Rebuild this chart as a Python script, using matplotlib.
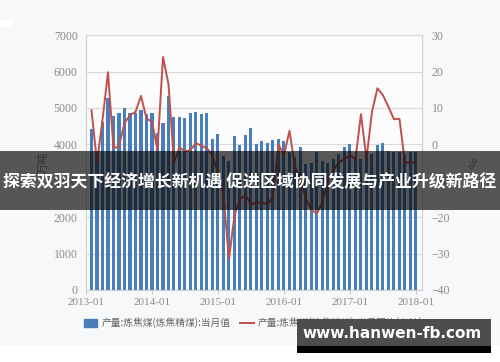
import matplotlib
matplotlib.use("Agg")
import matplotlib.pyplot as plt
import matplotlib.patches as patches
from matplotlib.lines import Line2D
import numpy as np
import pandas as pd

# monthly data, 2013-02 .. 2018-01
months = pd.period_range("2013-02", "2018-01", freq="M")
output = [4410, 3700, 4610, 5270, 4770, 4860, 5010, 4860, 4860, 4950, 4840, 4860,
          4310, 4580, 5340, 4740, 4740, 4720, 4860, 4890, 4830, 4860, 4150, 4290,
          3680, 3550, 4240, 3970, 4270, 4450, 4020, 4090, 4040, 4110, 4150, 4090,
          3790, 3650, 3940, 3450, 3500, 3780, 3550, 3500, 3600, 3740, 3940, 4000,
          3650, 3600, 3700, 3740, 3970, 4030, 3830, 3800, 3800, 3700, 3780, 3780]
yoy = [9.4, -5, 6.7, 19.8, -1.1, -0.5, 5.8, 8.0, 8.9, 13.3, 7.1, 6.2,
       -1.5, 24.0, 16.5, -5, -0.8, -2, -1.5, 0.3, -0.4, -1.1, -3, -8,
       -14, -31.5, -19.5, -15, -14, -16.5, -16, -16, -16.5, -14.5, 0, -3,
       3.7, -6, -10, -15, -18, -19, -15.8, -10, -7, -5, -4, -3,
       -4, 8.3, -4, 8.9, 15.4, 13.5, 10.3, 6.9, 7.0, -5, -5, -5]
year_labels = ["2013-01", "2014-01", "2015-01", "2016-01", "2017-01", "2018-01"]
left_ticks = [0, 1000, 2000, 3000, 4000, 5000, 6000, 7000]
right_ticks = [-40, -30, -20, -10, 0, 10, 20, 30]

bar_name = "产量:炼焦煤(炼焦精煤):当月值"
line_name = "产量:炼焦煤(炼焦精煤):当月同比(右轴)"
banner = "探索双羽天下经济增长新机遇 促进区域协同发展与产业升级新路径"
watermark = "www.hanwen-fb.com"

cjk = ["Noto Sans CJK SC", "DejaVu Sans"]
serif = "Liberation Serif"
blue = "#4a7ebb"
red = "#c0504d"
gray = "#8a8a8a"

x = np.array([(m - pd.Period("2013-01", freq="M")).n for m in months])

fig = plt.figure(figsize=(5, 3.62), dpi=100, facecolor="#f7f8fa")
ax = fig.add_axes([0.172, 0.199, 0.672, 0.704])
ax.set_facecolor("#fcfcfd")

ax.bar(x, output, width=0.55, color=blue, zorder=2)
ax.set_ylim(0, 7000)
ax.set_xlim(0, 61.1)
ax.set_yticks(left_ticks)
ax.set_yticklabels([str(v) for v in left_ticks], family=serif, fontsize=8.5, color=gray)
ax.set_xticks([0, 12, 24, 36, 48, 60])
ax.set_xticklabels(year_labels, family=serif, fontsize=8, color=gray)
ax.tick_params(axis="y", length=0, pad=6)
ax.tick_params(axis="x", length=3, color="#c8c8c8", pad=3)
ax.grid(axis="y", color="#d9d9d9", linewidth=0.9, zorder=0)
ax.set_axisbelow(True)
for s in ["left", "right", "bottom", "top"]:
    ax.spines[s].set_color("#cfcfcf")
ax.spines["top"].set_visible(False)
ax.set_ylabel("万吨", family=cjk, fontsize=8, color=gray, labelpad=4)

ax2 = ax.twinx()
ax2.plot(x, yoy, color=red, linewidth=1.4, zorder=3)
ax2.set_ylim(-40, 30)
ax2.set_yticks(right_ticks)
ax2.set_yticklabels([str(v).replace("-", "\u2212") for v in right_ticks],
                    family=serif, fontsize=8.5, color=gray)
ax2.tick_params(axis="y", length=0, pad=7)
for s in ["left", "right", "bottom", "top"]:
    ax2.spines[s].set_visible(False)
ax2.set_ylabel("%", family=cjk, fontsize=8, color=gray, labelpad=14)

# legend
handles = [patches.Patch(color=blue), Line2D([0], [0], color=red, linewidth=1.4)]
fig.legend(handles, [bar_name, line_name], loc="center", ncol=2,
           bbox_to_anchor=(0.506, 1 - 323 / 362), frameon=False,
           prop={"family": cjk, "size": 7}, labelcolor="#666666",
           handlelength=1.4, handleheight=0.9, columnspacing=1.0, handletextpad=0.4)

# white strip at bottom and small white box top-left
fig.add_artist(patches.Rectangle((0, 0), 1, 17 / 362, transform=fig.transFigure,
                                 facecolor="white", edgecolor="none", zorder=1))
fig.add_artist(patches.Rectangle((0, 1 - 27 / 362), 13 / 500, 7 / 362,
                                 transform=fig.transFigure, facecolor="white",
                                 edgecolor="none", zorder=1))

# banner overlay
fig.add_artist(patches.Rectangle((0, 1 - 210 / 362), 1, 59 / 362, transform=fig.transFigure,
                                 facecolor="black", alpha=0.65, edgecolor="none", zorder=10))
fig.text(0.5, 1 - 182 / 362, banner, family=cjk, fontsize=12.15, fontweight="bold",
         color="white", ha="center", va="center", zorder=11)

# watermark box
fig.add_artist(patches.Rectangle((297 / 500, 1 - 346 / 362), 194 / 500, 27 / 362,
                                 transform=fig.transFigure, facecolor="#4d4d4d",
                                 edgecolor="none", zorder=10))
fig.add_artist(patches.Rectangle((297 / 500, 1 - 353 / 362), 194 / 500, 7 / 362,
                                 transform=fig.transFigure, facecolor="black",
                                 edgecolor="none", zorder=10))
fig.text(392 / 500, 1 - 333 / 362, watermark, family="DejaVu Sans", fontsize=11,
         fontweight="bold", color="white", ha="center", va="center", zorder=11)

fig.savefig("out.png", dpi=100, facecolor=fig.get_facecolor())
